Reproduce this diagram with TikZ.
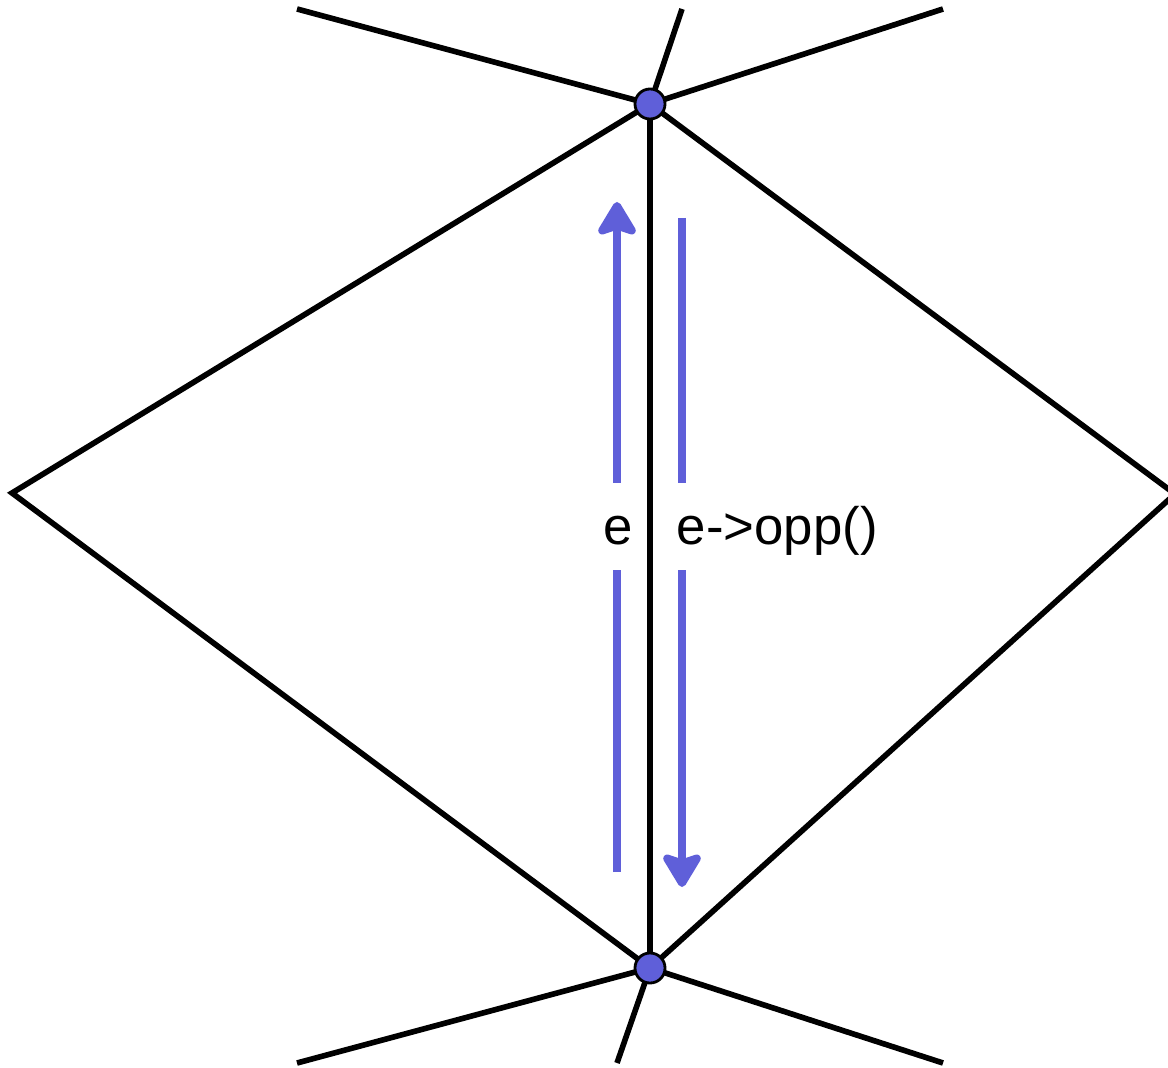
\documentclass[tikz,border=0pt]{standalone}
\usepackage{fontspec}
\setmainfont{Liberation Sans}
\usetikzlibrary{arrows.meta}
\definecolor{halfblue}{RGB}{95,95,217}

\begin{document}
\begin{tikzpicture}[x=0.01cm, y=-0.01cm,
  edge/.style={line width=1.6pt, black},
  vert/.style={circle, draw=black, line width=0.8pt, fill=halfblue, minimum size=0.3cm, inner sep=0pt},
  half/.style={line width=2.5pt, halfblue, -{Stealth[round, length=11pt, width=13pt, inset=2pt]}},
  lbl/.style={fill=white, inner xsep=2pt, inner ysep=0pt, text height=0.62cm, text depth=0.25cm, font=\fontsize{15}{18}\selectfont},
  ]
  \useasboundingbox (0,0) rectangle (1168,1068);
  \clip (0,0) rectangle (1168,1068);

  % Mesh vertices
  \coordinate (top) at (650,104);
  \coordinate (bot) at (650,968);
  \coordinate (left) at (12,493);
  \coordinate (right) at (1175,494);
  \coordinate (tl) at (297,9);
  \coordinate (tm) at (682,9);
  \coordinate (tr) at (943,9);
  \coordinate (bl) at (297,1063);
  \coordinate (bm) at (617,1063);
  \coordinate (br) at (943,1063);

  % Edges
  \draw[edge] (top) -- (bot);
  \draw[edge] (top) -- (left) -- (bot) -- (right) -- cycle;
  \draw[edge] (tl) -- (top) -- (tr);
  \draw[edge] (tm) -- (top);
  \draw[edge] (bl) -- (bot) -- (br);
  \draw[edge] (bm) -- (bot);

  % Half-edges
  \coordinate (eTail) at (617,872);
  \coordinate (eHead) at (617,202);
  \coordinate (oppTail) at (682,218);
  \coordinate (oppHead) at (682,887);
  \draw[half] (eTail) -- (eHead);
  \draw[half] (oppTail) -- (oppHead);

  % Labels
  \node[lbl, anchor=base] (eLbl) at (618,545) {e};
  \node[lbl, anchor=base west] (oppLbl) at (669,545) {e->opp()};

  % Vertex dots
  \node[vert] (topDot) at (top) {};
  \node[vert] (botDot) at (bot) {};
\end{tikzpicture}
\end{document}
